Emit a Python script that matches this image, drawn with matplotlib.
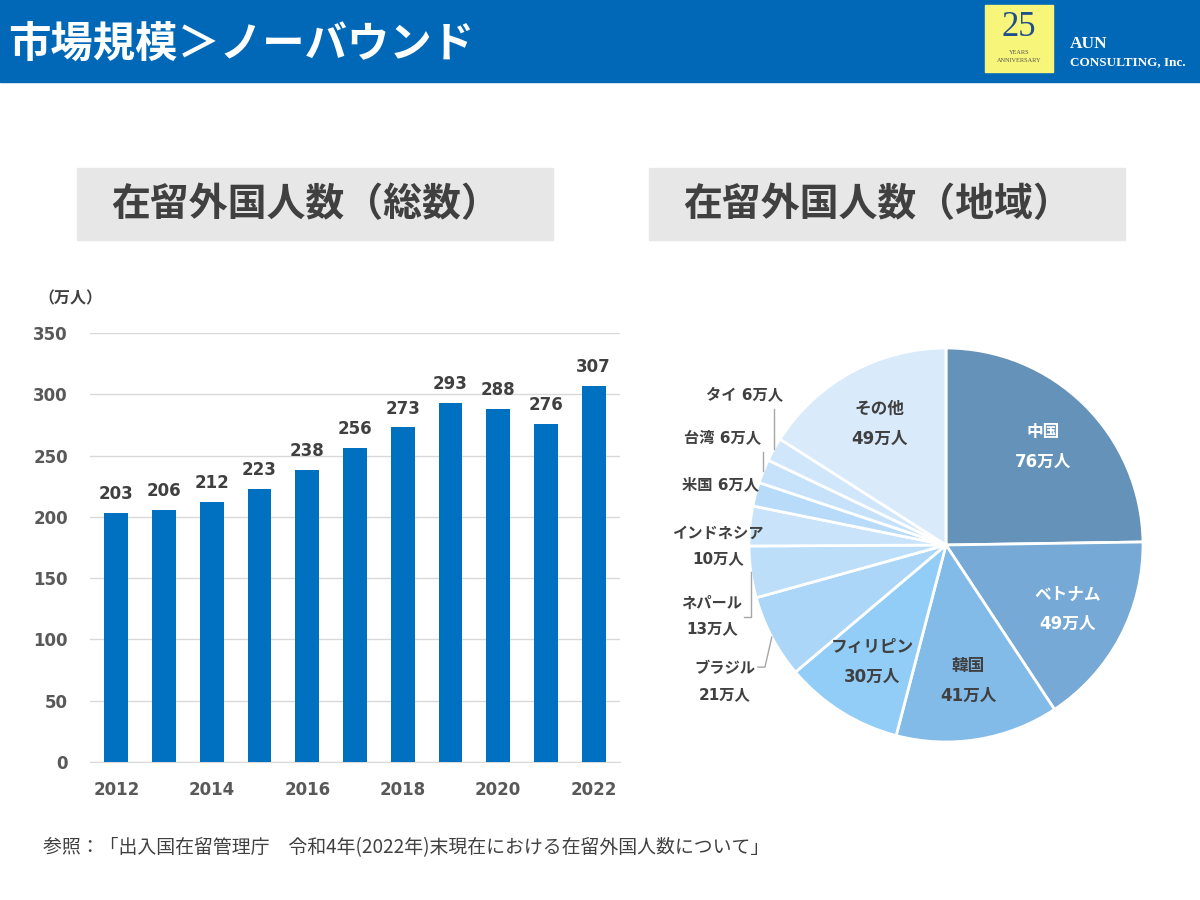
import matplotlib.pyplot as plt
import matplotlib.patches as patches
import numpy as np

plt.rcParams['font.family'] = ['Noto Sans CJK JP', 'DejaVu Sans']
num_font = ['DejaVu Sans', 'Noto Sans CJK JP']

# data
years = [2012, 2013, 2014, 2015, 2016, 2017, 2018, 2019, 2020, 2021, 2022]
totals = [203, 206, 212, 223, 238, 256, 273, 293, 288, 276, 307]

regions = ['中国', 'ベトナム', '韓国', 'フィリピン', 'ブラジル', 'ネパール',
           'インドネシア', '米国', '台湾', 'タイ', 'その他']
region_vals = [76, 49, 41, 30, 21, 13, 10, 6, 6, 6, 49]
region_colors = ['#6592b8', '#76a9d5', '#82bbe8', '#92cdf8', '#acd6f8', '#bcdef9',
                 '#c9e4fa', '#b8dbf9', '#c6e2fa', '#d0e7fb', '#d9eafb']

dark = '#404040'

fig = plt.figure(figsize=(12, 9), dpi=100)

# header band
fig.patches.append(patches.Rectangle((0, 1 - 82 / 900), 1, 82 / 900, transform=fig.transFigure,
                                     color='#0068b7', zorder=0))
fig.text(8 / 1200, 1 - 45 / 900, '市場規模＞ノーバウンド', color='white', fontsize=30.5,
         fontweight='bold', va='center', ha='left')

# logo
fig.patches.append(patches.Rectangle((985 / 1200, 1 - 72 / 900), 68 / 1200, 67 / 900,
                                     transform=fig.transFigure, color='#f7f57a', zorder=1))
fig.text(1019 / 1200, 1 - 28 / 900, '25', color='#1f4e8c', fontsize=25, ha='center', va='center',
         family='Liberation Serif', zorder=2)
fig.text(1019 / 1200, 1 - 52 / 900, 'YEARS', color='#555555', fontsize=4.5, ha='center', va='center',
         family='Liberation Serif', zorder=2)
fig.text(1019 / 1200, 1 - 61 / 900, 'ANNIVERSARY', color='#555555', fontsize=4.5, ha='center',
         va='center', family='Liberation Serif', zorder=2)
fig.text(1070 / 1200, 1 - 44 / 900, 'AUN', color='white', fontsize=12.5, ha='left', va='center',
         family='Liberation Serif', fontweight='bold')
fig.text(1070 / 1200, 1 - 62 / 900, 'CONSULTING, Inc.', color='white', fontsize=9.5, ha='left',
         va='center', family='Liberation Serif', fontweight='bold')

# section title boxes
for x0, title in [(77, '在留外国人数（総数）'), (649, '在留外国人数（地域）')]:
    fig.patches.append(patches.Rectangle((x0 / 1200, 1 - 240 / 900), 476 / 1200, 72 / 900,
                                         transform=fig.transFigure, color='#e7e7e7', zorder=0))
    fig.text((x0 + 228) / 1200, 1 - 205 / 900, title, color=dark, fontsize=28,
             fontweight='bold', ha='center', va='center')

# bar chart
ax = fig.add_axes([90 / 1200, 138 / 900, 530 / 1200, 429 / 900])
bars = ax.bar(years, totals, width=0.5, color='#0070c0', zorder=3)
for b, v in zip(bars, totals):
    ax.text(b.get_x() + b.get_width() / 2, v + 8, str(v), ha='center', va='bottom',
            fontsize=12, fontweight='bold', color=dark, family=num_font)
ax.set_ylim(0, 350)
ax.set_xlim(2011.45, 2022.55)
ax.set_yticks(range(0, 351, 50))
ax.set_xticks(years[::2])
ax.grid(axis='y', color='#d9d9d9', lw=1, zorder=0)
for s in ['top', 'right', 'left']:
    ax.spines[s].set_visible(False)
ax.spines['bottom'].set_color('#d9d9d9')
ax.tick_params(length=0, labelsize=12, labelcolor='#595959', pad=16)
ax.tick_params(axis='x', pad=14)
for lab in ax.get_xticklabels() + ax.get_yticklabels():
    lab.set_fontweight('bold')
    lab.set_family(num_font)
fig.text(38 / 1200, 1 - 298 / 900, '（万人）', fontsize=11.5, fontweight='bold', color=dark,
         ha='left', va='center')

# pie chart
pax = fig.add_axes([749 / 1200, 158 / 900, 394 / 1200, 394 / 900])
wedges, _ = pax.pie(region_vals, colors=region_colors, startangle=90, counterclock=False,
                    radius=1, wedgeprops=dict(edgecolor='white', linewidth=2))
pax.set_xlim(-1, 1)
pax.set_ylim(-1, 1)
pax.set_aspect('equal')

mids = []
for w in wedges:
    mids.append(np.deg2rad((w.theta1 + w.theta2) / 2))

inside = {'中国': 'white', 'ベトナム': 'white', '韓国': dark, 'フィリピン': dark, 'その他': dark}
for name, v, a in zip(regions, region_vals, mids):
    if name in inside:
        x, y = 0.7 * np.cos(a), 0.7 * np.sin(a)
        pax.text(x, y, f'{name}\n{v}万人', ha='center', va='center', fontsize=12,
                 fontweight='bold', color=inside[name], linespacing=1.85, family=num_font)

# outside labels (positions in pie units)
outside = {
    'タイ': (-1.025, 0.761, 'one'),
    '台湾': (-1.137, 0.543, 'one'),
    '米国': (-1.147, 0.305, 'one'),
    'インドネシア': (-1.157, -0.005, 'two'),
    'ネパール': (-1.188, -0.36, 'two'),
    'ブラジル': (-1.122, -0.695, 'two'),
}
for name, v, a in zip(regions, region_vals, mids):
    if name not in outside:
        continue
    x, y, kind = outside[name]
    txt = f'{name} {v}万人' if kind == 'one' else f'{name}\n{v}万人'
    pax.text(x, y, txt, ha='center', va='center', fontsize=11, fontweight='bold', color=dark,
             linespacing=1.9, clip_on=False, family=num_font)

# leader lines from wedge edge
ex = {n: (np.cos(a), np.sin(a)) for n, a in zip(regions, mids)}
lc = '#a6a6a6'
px, py = ex['タイ']
pax.plot([px, px], [py, 0.69], color=lc, lw=1, clip_on=False)
px, py = ex['台湾']
pax.plot([px, px], [py, 0.47], color=lc, lw=1, clip_on=False)
px, py = ex['ネパール']
pax.plot([px, px, px - 0.035], [py, -0.365, -0.365], color=lc, lw=1, clip_on=False)
px, py = ex['ブラジル']
pax.plot([px, px - 0.035, px - 0.07], [py, -0.62, -0.62], color=lc, lw=1, clip_on=False)

# footnote
fig.text(43 / 1200, 1 - 848 / 900, '参照：「出入国在留管理庁　令和4年(2022年)末現在における在留外国人数について」',
         fontsize=13.6, color=dark, ha='left', va='center')

fig.savefig('out.png', dpi=100)
